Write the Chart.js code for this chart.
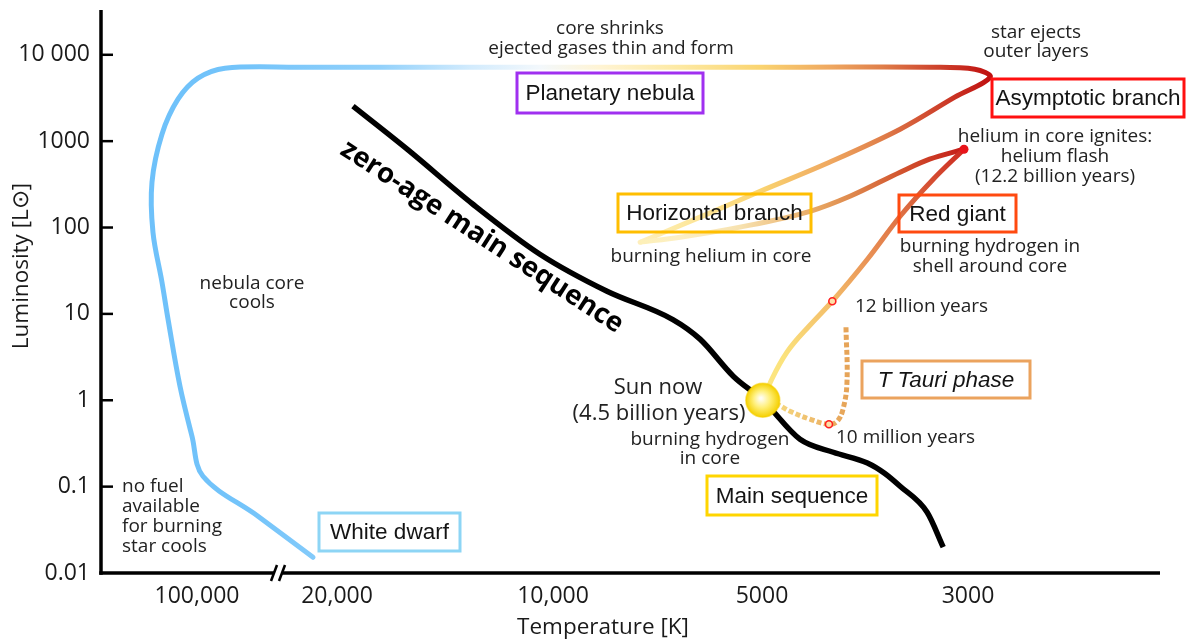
<!DOCTYPE html>
<html><head><meta charset="utf-8">
<script src="https://cdn.jsdelivr.net/npm/chart.js@4/dist/chart.umd.min.js"></script>
<style>html,body{margin:0;padding:0;background:#fff;}</style>
</head><body>
<canvas id="c" width="1187" height="642"></canvas>
<script>
// ---------- axis definitions ----------
const tickTemps = [100000, 20000, 10000, 5000, 3000];
const tickLabels = ['100,000', '20,000', '10,000', '5000', '3000'];
const lumTicks = [0.01, 0.1, 1, 10, 100, 1000, 10000];
const lumTickLabels = ['0.01', '0.1', '1', '10', '100', '1000', '10 000'];

// ---------- series (temperature K, luminosity L_sun) ----------
const zamsT = [19000, 15970, 12930, 10430, 8360, 6720, 6140, 5500, 4990, 4550, 4190, 3850, 3690, 3550, 3320, 3190];
const zamsL = [2540, 807, 186, 49.1, 18.3, 8.6, 5.1, 1.9, 1.0, 0.353, 0.25, 0.188, 0.143, 0.101, 0.0505, 0.0199];

const rgbT = [4990, 4880, 4700, 4440, 4200, 3850, 3550, 3270, 3030];
const rgbL = [1.0, 1.75, 3.6, 7.39, 14.0, 42.9, 135, 362, 807];

const hbT = [7490, 6560, 5380, 4430, 4020, 3550, 3300, 3030];
const hbL = [67.6, 77.2, 101, 155, 230, 437, 618, 807];

const pnT = [7490, 6140, 5030, 4230, 3550, 3100, 2840, 2950, 3300, 4550, 8560, 16340, 30600, 72500, 98900, 124400, 149600, 167800, 165900, 149600, 139500, 121600, 105900, 93350, 49600, 26350];
const pnL = [67.6, 132, 263, 570, 1375, 3230, 5500, 6810, 7180, 7180, 7180, 7180, 7180, 7000, 5360, 3060, 1203, 335, 88.3, 23.3, 8.67, 1.45, 0.383, 0.132, 0.0454, 0.0152];

const ttT = [4060, 4050, 4090, 4150, 4235, 4440, 4665, 4820, 4990];
const ttL = [7.0, 1.62, 0.787, 0.571, 0.527, 0.603, 0.746, 0.899, 1.0];

const sunT = [4990], sunL = [1.0];
const stageT = [4200, 4235], stageL = [14.0, 0.527];   // 12 billion yr, 10 million yr
const flashT = [3030], flashL = [807];

// ---------- axis layout config ----------
const tickPos = [96, 236, 452, 661, 867];
const xMin = 0, xMax = 1059, breakPos = 177;
const lumMin = 0.01, lumMax = 33000;
const tickLogs = tickTemps.map(Math.log10);
function tPos(T) {
  const l = Math.log10(T);
  let i = 0;
  while (i < tickLogs.length - 2 && l < tickLogs[i + 1]) i++;
  const f = (l - tickLogs[i]) / (tickLogs[i + 1] - tickLogs[i]);
  return tickPos[i] + f * (tickPos[i + 1] - tickPos[i]);
}
const pts = (T, L) => T.map((t, i) => ({ x: tPos(t), y: L[i] }));

// ---------- colour stops ----------
const pnStops = [[170000,'#6ec1fa'],[54400,'#74c4fa'],[17420,'#92d1fb'],[13050,'#d2ebfd'],[10430,'#f3f8fc'],[8560,'#fff4d4'],[6560,'#fde9a2'],[5030,'#fad470'],[4230,'#efa860'],[3730,'#e0804a'],[3300,'#d04a30'],[2840,'#c01010']];
const hbStops = [[3030,'#c41c18'],[3550,'#d2552f'],[4020,'#df8a4e'],[4430,'#e9ac66'],[5380,'#f7e2b0'],[6560,'#fcefc4'],[7490,'#fdf0b8']];
const ttStops = [[4990,'#f8df86'],[4665,'#f3cf78'],[4235,'#ebb064'],[4060,'#e6a458']];
const rgbStops = [[0,'#fde883'],[0.15,'#fbe27c'],[0.37,'#f3bd6a'],[0.55,'#e99155'],[0.75,'#dc6a40'],[1,'#cc2a20']];

function hGrad(chart, stops) {
  const xs = chart.scales.x;
  if (!chart.chartArea || !xs) return stops[0][1];
  const px = stops.map(s => xs.getPixelForValue(tPos(s[0])));
  const x0 = Math.min(...px), x1 = Math.max(...px);
  const g = chart.ctx.createLinearGradient(x0, 0, x1, 0);
  stops.forEach((s, i) => g.addColorStop((px[i] - x0) / (x1 - x0), s[1]));
  return g;
}
function rgbGrad(chart) {
  const xs = chart.scales.x, ys = chart.scales.y;
  if (!chart.chartArea || !xs) return rgbStops[0][1];
  const n = rgbT.length - 1;
  const g = chart.ctx.createLinearGradient(
    xs.getPixelForValue(tPos(rgbT[0])), ys.getPixelForValue(rgbL[0]),
    xs.getPixelForValue(tPos(rgbT[n])), ys.getPixelForValue(rgbL[n]));
  rgbStops.forEach(s => g.addColorStop(s[0], s[1]));
  return g;
}
function sunFill(ctx) {
  const ch = ctx.chart;
  if (!ch.chartArea || ctx.dataIndex === undefined || ctx.type !== 'data') return '#ffe24a';
  const p = ctx.dataset.data[ctx.dataIndex];
  const x = ch.scales.x.getPixelForValue(p.x), y = ch.scales.y.getPixelForValue(p.y);
  const g = ch.ctx.createRadialGradient(x - 2, y - 2, 1, x, y, 17);
  g.addColorStop(0, '#fffdf2'); g.addColorStop(0.45, '#fff07c'); g.addColorStop(1, '#f5d000');
  return g;
}

// ---------- annotations ----------
const SANS = '"Open Sans", sans-serif';
const ARIAL = '"Liberation Sans", Arial, sans-serif';
const notes = [
  ['core shrinks', 610, 29, 'center', 19],
  ['ejected gases thin and form', 611, 49, 'center', 19],
  ['star ejects', 1036, 33, 'center', 19],
  ['outer layers', 1036, 52, 'center', 19],
  ['helium in core ignites:', 1055, 137, 'center', 19],
  ['helium flash', 1055, 157, 'center', 19],
  ['(12.2 billion years)', 1055, 177, 'center', 19],
  ['burning hydrogen in', 990, 247, 'center', 19],
  ['shell around core', 990, 267, 'center', 19],
  ['12 billion years', 855, 307, 'left', 19],
  ['burning helium in core', 711, 257, 'center', 19],
  ['nebula core', 252, 284, 'center', 19],
  ['cools', 252, 303, 'center', 19],
  ['no fuel', 122, 487, 'left', 19],
  ['available', 122, 507, 'left', 19],
  ['for burning', 122, 527, 'left', 19],
  ['star cools', 122, 547, 'left', 19],
  ['Sun now', 658, 388, 'center', 22],
  ['(4.5 billion years)', 659, 414, 'center', 22],
  ['burning hydrogen', 710, 440, 'center', 19],
  ['in core', 710, 459, 'center', 19],
  ['10 million years', 836, 438, 'left', 19]
];
const boxes = [
  ['Planetary nebula', 517, 73, 703, 113, '#a030f0', false],
  ['Asymptotic branch', 992, 79, 1184, 117, '#ff1010', false],
  ['Horizontal branch', 618, 194, 811, 232, '#ffbe00', false],
  ['Red giant', 899, 195, 1016, 232, '#ff4a10', false],
  ['T Tauri phase', 862, 361, 1030, 398, '#eba35e', true],
  ['Main sequence', 707, 476, 877, 515, '#ffd500', false],
  ['White dwarf', 319, 513, 460, 551, '#8dd5f5', false]
];

const decor = {
  id: 'decor',
  afterDraw(chart) {
    const c = chart.ctx, ca = chart.chartArea, ys = chart.scales.y, xs = chart.scales.x;
    c.save();
    // axes
    c.strokeStyle = '#000'; c.lineWidth = 3.5;
    c.beginPath(); c.moveTo(ca.left, ca.top); c.lineTo(ca.left, ca.bottom + 1.75); c.stroke();
    c.beginPath(); c.moveTo(ca.left - 1.75, ca.bottom); c.lineTo(ca.right, ca.bottom); c.stroke();
    c.lineWidth = 2.5;
    lumTicks.forEach(v => {
      if (v <= lumMin) return;
      const y = ys.getPixelForValue(v);
      c.beginPath(); c.moveTo(ca.left, y); c.lineTo(ca.left + 12, y); c.stroke();
    });
    // axis break
    const bx = xs.getPixelForValue(breakPos);
    c.fillStyle = '#fff'; c.fillRect(bx - 4, ca.bottom - 3, 8, 6);
    c.lineWidth = 2.5;
    [-4, 4].forEach(d => {
      c.beginPath(); c.moveTo(bx + d - 3, ca.bottom + 8); c.lineTo(bx + d + 3, ca.bottom - 8); c.stroke();
    });
    // boxes
    boxes.forEach(b => {
      c.strokeStyle = b[5]; c.lineWidth = 3;
      c.strokeRect(b[1], b[2], b[3] - b[1], b[4] - b[2]);
      c.fillStyle = '#141414';
      c.font = (b[6] ? 'italic ' : '') + '22.5px ' + ARIAL;
      c.textAlign = 'center'; c.textBaseline = 'middle';
      c.fillText(b[0], (b[1] + b[3]) / 2, (b[2] + b[4]) / 2 + 1);
    });
    // notes
    c.fillStyle = '#222';
    notes.forEach(n => {
      c.font = n[4] + 'px ' + SANS;
      c.textAlign = n[3]; c.textBaseline = 'middle';
      c.fillText(n[0], n[1], n[2]);
    });
    // zero-age main sequence label
    c.save();
    c.translate(482, 237);
    c.rotate(33 * Math.PI / 180);
    c.font = 'bold 27.5px ' + SANS;
    c.fillStyle = '#000'; c.textAlign = 'center'; c.textBaseline = 'middle';
    c.fillText('zero-age main sequence', 0, 0);
    c.restore();
    // axis titles
    c.fillStyle = '#1a1a1a';
    c.font = '22.5px ' + SANS; c.textAlign = 'center'; c.textBaseline = 'middle';
    c.fillText('Temperature [K]', 603, 628);
    c.save(); c.translate(22, 266); c.rotate(-Math.PI / 2);
    c.fillText('Luminosity [L\u2299]', 0, 0);
    c.restore();
    c.restore();
  }
};

function make() {
  new Chart(document.getElementById('c'), {
    type: 'line',
    data: {
      datasets: [
        { label: 'Sun now', data: pts(sunT, sunL), showLine: false, pointRadius: 17, pointHoverRadius: 17,
          backgroundColor: sunFill, borderColor: 'rgba(245,205,0,0.55)', borderWidth: 1.5, order: 0 },
        { label: 'helium flash', data: pts(flashT, flashL), showLine: false, pointRadius: 4.5,
          backgroundColor: '#e8141a', borderWidth: 0, order: 1 },
        { label: 'stages', data: pts(stageT, stageL), showLine: false, pointRadius: 3.5,
          backgroundColor: '#fde0a8', borderColor: '#ff2020', borderWidth: 1.6, order: 1 },
        { label: 'Red giant branch', data: pts(rgbT, rgbL), pointRadius: 0, borderWidth: 5,
          cubicInterpolationMode: 'monotone', borderColor: c => rgbGrad(c.chart), order: 3 },
        { label: 'T Tauri', data: pts(ttT, ttL), pointRadius: 0, borderWidth: 5, tension: 0.4,
          borderDash: [5, 2.5], borderColor: c => hGrad(c.chart, ttStops), order: 4 },
        { label: 'Horizontal branch', data: pts(hbT, hbL), pointRadius: 0, borderWidth: 5,
          cubicInterpolationMode: 'monotone', borderColor: c => hGrad(c.chart, hbStops), order: 4 },
        { label: 'AGB / planetary nebula / white dwarf', data: pts(pnT, pnL), pointRadius: 0, borderWidth: 5,
          tension: 0.35, borderCapStyle: 'round', borderColor: c => hGrad(c.chart, pnStops), order: 5 },
        { label: 'zero-age main sequence', data: pts(zamsT, zamsL), pointRadius: 0, borderWidth: 5.5,
          cubicInterpolationMode: 'monotone', borderColor: '#000', order: 6 }
      ]
    },
    options: {
      responsive: false, animation: false, devicePixelRatio: 1,
      layout: { autoPadding: false, padding: { top: 10, right: 27, bottom: 0, left: 0 } },
      plugins: { legend: { display: false }, tooltip: { enabled: false }, title: { display: false } },
      events: [],
      scales: {
        x: {
          type: 'linear', min: xMin, max: xMax,
          grid: { display: false, drawTicks: false }, border: { display: false },
          afterBuildTicks: s => { s.ticks = tickPos.map(v => ({ value: v })); },
          afterFit: s => { s.height = 69; s.paddingLeft = 0; s.paddingRight = 0; },
          ticks: { autoSkip: false, maxRotation: 0, padding: 10, color: '#1a1a1a',
            font: { family: SANS, size: 23 }, callback: (v, i) => tickLabels[i] }
        },
        y: {
          type: 'logarithmic', min: lumMin, max: lumMax,
          grid: { display: false, drawTicks: false }, border: { display: false },
          afterBuildTicks: s => { s.ticks = lumTicks.map(v => ({ value: v })); },
          afterFit: s => { s.width = 101; s.paddingTop = 0; s.paddingBottom = 0; },
          ticks: { autoSkip: false, padding: 11, color: '#1a1a1a',
            font: { family: SANS, size: 23 }, callback: (v, i) => lumTickLabels[i] }
        }
      }
    },
    plugins: [decor]
  });
}
Promise.all([
  document.fonts.load('17px "Open Sans"'), document.fonts.load('bold 25px "Open Sans"'),
  document.fonts.load('21px "Liberation Sans"'), document.fonts.load('italic 21px "Liberation Sans"')
]).then(make, make);
</script>
</body></html>
